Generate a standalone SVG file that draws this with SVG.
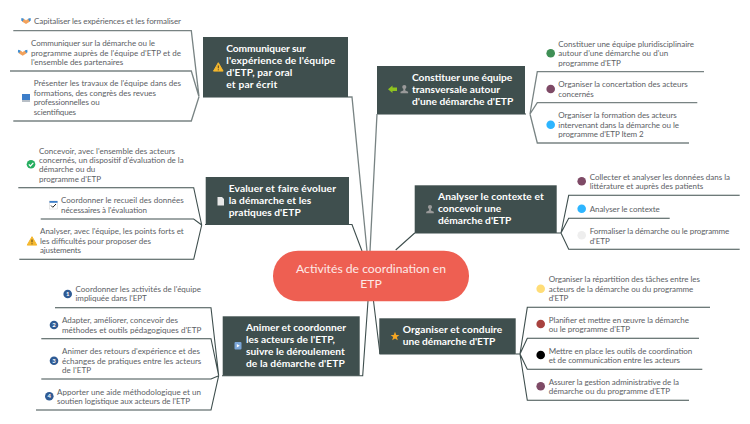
<svg xmlns="http://www.w3.org/2000/svg" xmlns:xlink="http://www.w3.org/1999/xlink" width="750" height="424" viewBox="0 0 750 424">
<style>
text{font-family:"Lato","Open Sans","Liberation Sans",sans-serif}
.l{font-size:8px;fill:#5b6064}
.t{font-size:10.2px;font-weight:700;fill:#fff}
.c{font-size:12.2px;fill:#fde9e6;text-anchor:middle}
.n{fill:#3f4f4e}
.k{fill:none;stroke:#3f4f4e;stroke-width:1.1}
.g{fill:none;stroke:#3f4f4e;stroke-width:1.3;stroke-opacity:.7}
.d{font-size:6px;font-weight:700;fill:#fff;text-anchor:middle}
.num{fill:#2f5b94}
</style>
<defs>
<g id="warn"><path d="M0-4.600 4.800 3.800H-4.800Z" fill="#f5b82e" stroke="#f5b82e" stroke-linejoin="round"/><path d="M0-1.800V1M0 2V3" stroke="#3f3320" stroke-width=".9"/></g>
<g id="hand"><path d="M-4-2.500-1-1.500 0-.5 1-1.500 4-2.500V.5L0 3-4 .5Z" fill="#f2a25c"/><path d="M-4.600-3-2-2.200-3.400 .4-4.800-.4ZM4.600-3 2-2.200 3.400 .4 4.800-.4Z" fill="#3d8fd6"/></g>
<g id="person"><circle cy="-2.200" r="2.100" fill="#9a9a9a"/><path d="M-.9-.5H.9L1 1.300 3.800 2.400V4H-3.800V2.400L-1 1.300Z" fill="#9a9a9a"/></g>
</defs>
<g id="connectors">
<path class="g" d="M203 97H352L367 251"/>
<path class="k" d="M205 224.500H352L362 251"/>
<path class="g" d="M377 114H526M377 114 370 251"/>
<path class="k" d="M414.700 233 395.700 250M414.700 233H561"/>
<path class="k" d="M515.700 354H380L373.500 301"/>
<path class="k" d="M222 375.700H362.700L368 301"/>
<path class="g" d="M199 96.700 191.300 30.700H13.300M199 96.700 191.300 71H10M199 96.700 191.300 121H13.300"/>
<path class="k" d="M201.700 225 193.700 187.700H18.300M201.700 225 193.700 219H40.700M201.700 225 193.700 259.300H19.300"/>
<path class="k" d="M218.700 375.700 211 307.700H55M218.700 375.700 211 338.700H41.300M218.700 375.700 211 379H41.300M218.700 375.700 211 410H36"/>
<path class="g" d="M530 114 537.300 71.700H704M530 114 537.300 102.700H697.300M530 114 537.300 143H689"/>
<path class="k" d="M561 233 568.700 195.300H739.700M561 233 568.700 218.300H669.700M561 233 568.700 249.300H739.700"/>
<path class="k" d="M515.700 354H520L527.300 307.300H710M520 354 527.300 338.300H699M520 354 527.300 369.300H702.300M520 354 527.300 400.300H689"/>
</g>
<g id="center"><rect x="273" y="250.700" width="196" height="50.500" rx="25" fill="#ee5f52"/><text class="c" x="371" y="272.500">Activités de coordination en</text><text class="c" x="371" y="287.500">ETP</text></g>
<g id="node-communiquer"><rect class="n" x="203" y="37" width="145" height="60"/><use xlink:href="#warn" x="218.300" y="67.300"/><text class="t" x="226.300" y="52" textLength="79.500">Communiquer sur</text><text class="t" x="226.300" y="64" textLength="109">l'expérience de l'équipe</text><text class="t" x="226.300" y="76" textLength="66">d'ETP, par oral</text><text class="t" x="226.300" y="88" textLength="51">et par écrit</text></g>
<g id="node-evaluer"><rect class="n" x="205.700" y="177" width="143.300" height="47"/><path d="M217.500 197H222L224 199V205.500H217.500Z" fill="#e8e8e8"/><text class="t" x="228.700" y="192" textLength="107.300">Evaluer et faire évoluer</text><text class="t" x="228.700" y="204" textLength="82.600">la démarche et les</text><text class="t" x="228.700" y="216" textLength="72">pratiques d'ETP</text></g>
<g id="node-animer"><rect class="n" x="222.700" y="316.300" width="137" height="59.400"/><rect x="234.500" y="342" width="7" height="7.500" rx="1" fill="#7ba6d8"/><path d="M236.800 344 239.800 345.700 236.800 347.500Z" fill="#fff"/><text class="t" x="246" y="331" textLength="100">Animer et coordonner</text><text class="t" x="246" y="343" textLength="89">les acteurs de l'ETP,</text><text class="t" x="246" y="355" textLength="98.700">suivre le déroulement</text><text class="t" x="246" y="367" textLength="98.700">de la démarche d'ETP</text></g>
<g id="node-constituer"><rect class="n" x="377" y="66" width="148" height="48"/><path d="M388 89.300 392.500 85.500V87.500H397V91H392.500V93Z" fill="#8fc31f"/><use xlink:href="#person" x="404.300" y="89.300"/><text class="t" x="412" y="81" textLength="100.300">Constituer une équipe</text><text class="t" x="412" y="93" textLength="88">transversale autour</text><text class="t" x="412" y="105" textLength="101.300">d'une démarche d'ETP</text></g>
<g id="node-analyser"><rect class="n" x="414.700" y="185.300" width="142" height="47.700"/><use xlink:href="#person" x="430" y="209.300"/><text class="t" x="438" y="200" textLength="105.700">Analyser le contexte et</text><text class="t" x="438" y="212" textLength="63.300">concevoir une</text><text class="t" x="438" y="224" textLength="73.300">démarche d'ETP</text></g>
<g id="node-organiser"><rect class="n" x="379.300" y="318.300" width="136.400" height="35.700"/><path d="M395 331.800 396.300 335H399.400L396.900 337 397.800 340.300 395 338.400 392.200 340.300 393.100 337 390.600 335H393.700Z" fill="#f5a623"/><text class="t" x="402.700" y="333" textLength="99.600">Organiser et conduire</text><text class="t" x="402.700" y="345" textLength="92.600">une démarche d'ETP</text></g>
<g id="leaves-communiquer">
<use xlink:href="#hand" x="26" y="21"/><text class="l" x="34" y="24" textLength="147">Capitaliser les expériences et les formaliser</text>
<use xlink:href="#hand" x="22.700" y="52.700"/><text class="l" x="31" y="46" textLength="124">Communiquer sur la démarche ou le</text><text class="l" x="31" y="55.500" textLength="150">programme auprès de l'équipe d'ETP et de</text><text class="l" x="31" y="65" textLength="92.300">l'ensemble des partenaires</text>
<rect x="22" y="94" width="8" height="6" fill="#3d7ec9"/><rect x="22" y="100" width="8" height="2" fill="#b8bfc6"/><text class="l" x="33.700" y="86" textLength="147.300">Présenter les travaux de l'équipe dans des</text><text class="l" x="33.700" y="95.500" textLength="122.300">formations, des congrès des revues</text><text class="l" x="33.700" y="105" textLength="66">professionnelles ou</text><text class="l" x="33.700" y="114.500" textLength="42.300">scientifiques</text>
</g>
<g id="leaves-evaluer">
<circle cx="31" cy="164.300" r="4.300" fill="#27ae60"/><path d="M28.800 164.300 30.400 166 33.300 162.800" fill="none" stroke="#fff" stroke-width="1.200"/><text class="l" x="39" y="153.500" textLength="136">Concevoir, avec l'ensemble des acteurs</text><text class="l" x="39" y="163" textLength="144.700">concernés, un dispositif d'évaluation de la</text><text class="l" x="39" y="172.300" textLength="56.300">démarche ou du</text><text class="l" x="39" y="181.700" textLength="62">programme d'ETP</text>
<rect x="49.500" y="201" width="8" height="8" fill="#fff" stroke="#cfcfcf" stroke-width=".5"/><rect x="49.500" y="201" width="8" height="1.800" fill="#3d7ec9"/><path d="M51 205.500 52.800 207.300 56 204" fill="none" stroke="#222" stroke-width="1"/><text class="l" x="61" y="203" textLength="122.700">Coordonner le recueil des données</text><text class="l" x="61" y="212.500" textLength="86">nécessaires à l'évaluation</text>
<use xlink:href="#warn" x="32" y="241.300"/><text class="l" x="40" y="234" textLength="143.700">Analyser, avec l'équipe, les points forts et</text><text class="l" x="40" y="243.500" textLength="111">les difficultés pour proposer des</text><text class="l" x="40" y="253" textLength="41">ajustements</text>
</g>
<g id="leaves-animer">
<circle class="num" cx="67.700" cy="294" r="4.300"/><text class="d" x="67.700" y="296.100">1</text><text class="l" x="75.500" y="292" textLength="125.500">Coordonner les activités de l'équipe</text><text class="l" x="75.500" y="301" textLength="71.200">impliquée dans l'EPT</text>
<circle class="num" cx="54" cy="325" r="4.300"/><text class="d" x="54" y="327.100">2</text><text class="l" x="62" y="323" textLength="116">Adapter, améliorer, concevoir des</text><text class="l" x="62" y="332.500" textLength="139.300">méthodes et outils pédagogiques d'ETP</text>
<circle class="num" cx="54" cy="360.700" r="4.300"/><text class="d" x="54" y="362.800">3</text><text class="l" x="62" y="354" textLength="138">Animer des retours d'expérience et des</text><text class="l" x="62" y="363.500" textLength="139.300">échanges de pratiques entre les acteurs</text><text class="l" x="62" y="373" textLength="29">de l'ETP</text>
<circle class="num" cx="49.300" cy="396.300" r="4.300"/><text class="d" x="49.300" y="398.400">4</text><text class="l" x="57" y="394.500" textLength="144">Apporter une aide méthodologique et un</text><text class="l" x="57" y="404" textLength="133">soutien logistique aux acteurs de l'ETP</text>
</g>
<g id="leaves-constituer">
<circle cx="550.700" cy="53.300" r="4.300" fill="#3f8f55"/><text class="l" x="558.300" y="47" textLength="135.700">Constituer une équipe pluridisciplinaire</text><text class="l" x="558.300" y="56.300" textLength="110">autour d'une démarche ou d'un</text><text class="l" x="558.300" y="65.700" textLength="62.400">programme d'ETP</text>
<circle cx="550.700" cy="89" r="4.300" fill="#7e4a66"/><text class="l" x="558.300" y="87" textLength="129.400">Organiser la concertation des acteurs</text><text class="l" x="558.300" y="96.500" textLength="35.400">concernés</text>
<circle cx="550.700" cy="124.700" r="4.300" fill="#2db5ff"/><text class="l" x="558.300" y="118" textLength="118.400">Organiser la formation des acteurs</text><text class="l" x="558.300" y="127.500" textLength="120.700">intervenant dans la démarche ou le</text><text class="l" x="558.300" y="137" textLength="85.400">programme d'ETP Item 2</text>
</g>
<g id="leaves-analyser">
<circle cx="581.700" cy="181.300" r="4.300" fill="#7e4a66"/><text class="l" x="589.700" y="180" textLength="140.300">Collecter et analyser les données dans la</text><text class="l" x="589.700" y="189" textLength="113.600">littérature et auprès des patients</text>
<circle cx="581.700" cy="208.700" r="4.300" fill="#2db5ff"/><text class="l" x="589.700" y="212" textLength="70">Analyser le contexte</text>
<circle cx="581.700" cy="235.300" r="4.300" fill="#eeeeee"/><text class="l" x="589.700" y="234" textLength="139.600">Formaliser la démarche ou le programme</text><text class="l" x="589.700" y="243.500" textLength="20">d'ETP</text>
</g>
<g id="leaves-organiser">
<circle cx="540.700" cy="288.700" r="4.300" fill="#ffdd77"/><text class="l" x="548.700" y="282" textLength="151.300">Organiser la répartition des tâches entre les</text><text class="l" x="548.700" y="291.500" textLength="144.600">acteurs de la démarche ou du programme</text><text class="l" x="548.700" y="301" textLength="19.600">d'ETP</text>
<circle cx="540.700" cy="324" r="4.300" fill="#a8423f"/><text class="l" x="548.700" y="322.500" textLength="140.300">Planifier et mettre en œuvre la démarche</text><text class="l" x="548.700" y="332" textLength="81.300">ou le programme d'ETP</text>
<circle cx="540.700" cy="355" r="4.300" fill="#000"/><text class="l" x="548.700" y="353.500" textLength="143.600">Mettre en place les outils de coordination</text><text class="l" x="548.700" y="363" textLength="131.300">et de communication entre les acteurs</text>
<circle cx="540.700" cy="386.300" r="4.300" fill="#7e4a66"/><text class="l" x="548.700" y="384.500" textLength="130.300">Assurer la gestion administrative de la</text><text class="l" x="548.700" y="394" textLength="121.300">démarche ou du programme d'ETP</text>
</g>
</svg>
